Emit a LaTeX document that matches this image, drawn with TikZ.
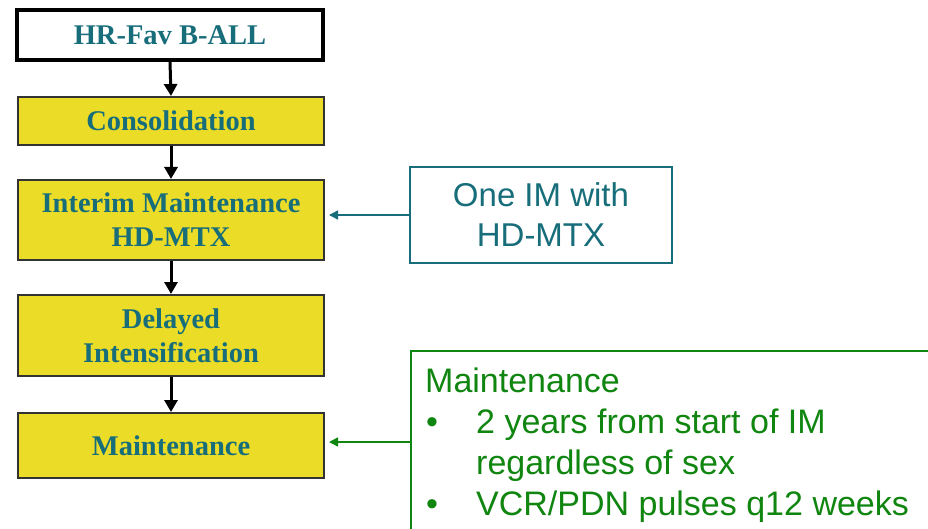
\documentclass[tikz,border=0pt]{standalone}
\usepackage{fontspec}
\setmainfont{Liberation Serif}
\newfontfamily\arialfont{Liberation Sans}
\usetikzlibrary{arrows.meta}
\definecolor{boxyellow}{RGB}{235,220,40}
\definecolor{tealtxt}{RGB}{23,110,122}
\definecolor{greentxt}{RGB}{16,134,16}
\begin{document}
\begin{tikzpicture}[x=1pt,y=-1pt,
  flowbox/.style={draw=black!80, line width=2pt, fill=boxyellow, minimum width=306pt,
    text=tealtxt, font=\bfseries\fontsize{28.5}{34}\selectfont, align=center, inner sep=0pt},
  topbox/.style={flowbox, fill=white, draw=black, line width=3.5pt, minimum width=306pt},
  flowarrow/.style={line width=3pt, -{Triangle[width=13pt,length=12pt]}},
  notebox/.style={draw, line width=1.2pt, inner sep=0pt},
  greenline/.style={text=greentxt, font=\arialfont\fontsize{34}{41}\selectfont, inner sep=0pt, anchor=base west}
]
\useasboundingbox (0,0) rectangle (928,529);
\clip (0,0) rectangle (928,529);
\fill[white] (0,0) rectangle (928,529);

\node[topbox, minimum height=50pt] (hr) at (170,35) {HR-Fav B-ALL};
\node[flowbox, minimum height=48pt] (cons) at (171,121) {Consolidation};
\node[flowbox, minimum height=80pt] (im) at (171,220) {Interim Maintenance\\HD-MTX};
\node[flowbox, minimum height=81pt] (di) at (171,335.5) {Delayed\\Intensification};
\node[flowbox, minimum height=65pt] (mt) at (171,445.5) {Maintenance};

\draw[flowarrow] (hr.south) -- (cons.north);
\draw[flowarrow] (cons.south) -- (im.north);
\draw[flowarrow] (im.south) -- (di.north);
\draw[flowarrow] (di.south) -- (mt.north);

\node[notebox, draw=tealtxt, text=tealtxt, minimum width=262pt, minimum height=96pt,
  align=center, font=\arialfont\fontsize{33}{40}\selectfont] (note1) at (541,215) {One IM with\\HD-MTX};
\draw[tealtxt, line width=1.5pt, -{Triangle[width=9pt,length=9pt]}] (note1.west) -- ([xshift=4pt]im.east |- note1.west);

\node[notebox, draw=greentxt, minimum width=534pt, minimum height=182pt] (note2) at (678,442) {};
\draw[greentxt, line width=1.5pt, -{Triangle[width=9pt,length=9pt]}] (note2.west) -- ([xshift=4pt]mt.east |- note2.west);

\node[greenline] (g1) at (425,392) {Maintenance};
\node[greenline] (b1) at (426,433) {\textbullet};
\node[greenline] (g2) at (476,433) {2 years from start of IM};
\node[greenline] (g3) at (476,474) {regardless of sex};
\node[greenline] (b2) at (426,515) {\textbullet};
\node[greenline] (g4) at (476,515) {VCR/PDN pulses q12 weeks};
\end{tikzpicture}
\end{document}
